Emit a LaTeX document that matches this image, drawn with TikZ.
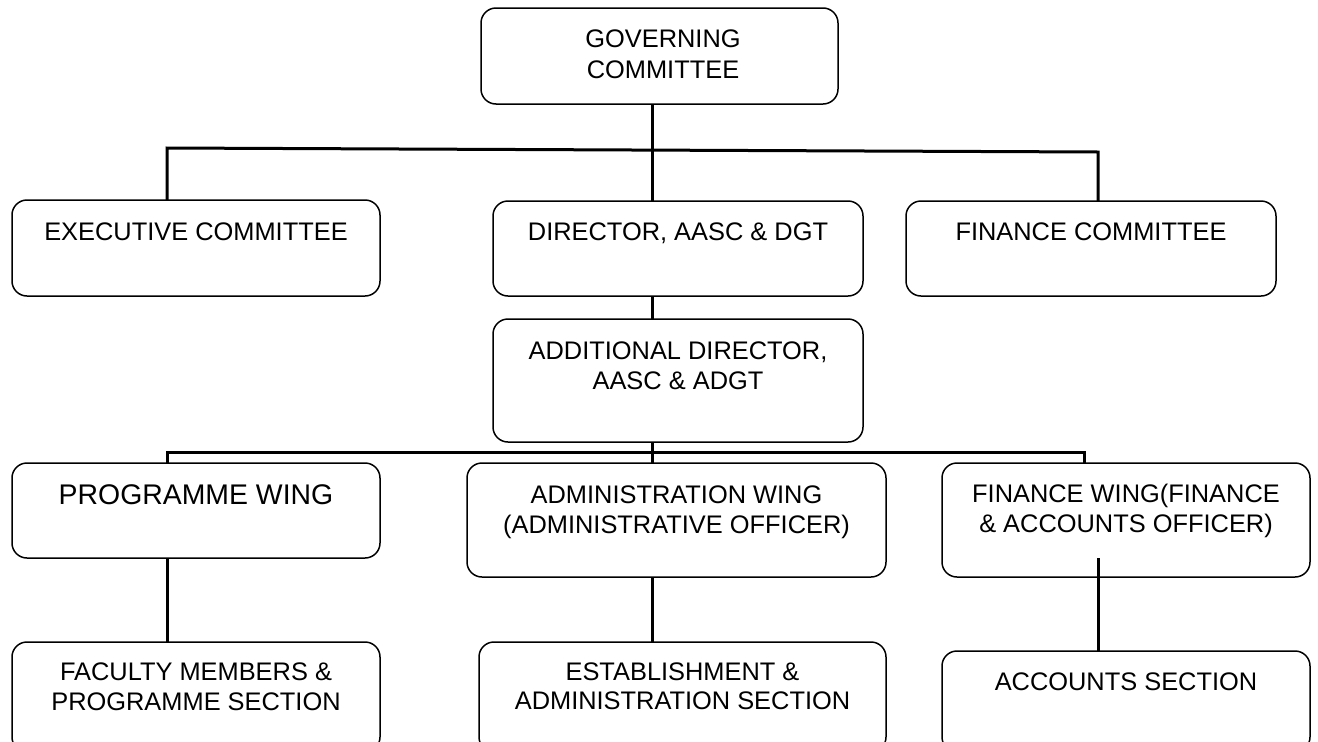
\documentclass[tikz,border=0pt]{standalone}
\usepackage{fontspec}
\setmainfont{Liberation Sans}
\begin{document}
\begin{tikzpicture}[x=1pt,y=-1pt,
  box/.style={draw, line width=1.5pt, rounded corners=15pt, inner sep=0pt, outer sep=0pt},
  conn/.style={line width=3pt},
  lbl/.style={font=\fontsize{25.4}{29.5}\selectfont, align=center, inner sep=0pt, anchor=base}]
\useasboundingbox (0,0) rectangle (1318,742);
% boxes
\node[box, minimum width=357pt, minimum height=96pt] (gov) at (659.5,56) {};
\node[box, minimum width=368pt, minimum height=96pt] (exec) at (196,248) {};
\node[box, minimum width=370pt, minimum height=95pt] (dir) at (678,248.5) {};
\node[box, minimum width=370pt, minimum height=95pt] (fcom) at (1091,248.5) {};
\node[box, minimum width=370pt, minimum height=123pt] (add) at (678,380.5) {};
\node[box, minimum width=368pt, minimum height=95pt] (pw) at (196,510.5) {};
\node[box, minimum width=419pt, minimum height=114pt] (admw) at (676.5,520) {};
\node[box, minimum width=368pt, minimum height=114pt] (fw) at (1126,520) {};
\node[box, minimum width=368pt, minimum height=110pt] (fac) at (196,697) {};
\node[box, minimum width=407pt, minimum height=110pt] (est) at (682.5,697) {};
\node[box, minimum width=368pt, minimum height=101pt] (acc) at (1126,701.5) {};
% labels (base anchor = baseline of the last line)
\node[lbl, font=\fontsize{25.4}{31}\selectfont] (tgov) at ([xshift=3.5pt,yshift=-70pt]gov.north) {GOVERNING\\COMMITTEE};
\node[lbl] (texec) at ([yshift=-40pt]exec.north) {EXECUTIVE COMMITTEE};
\node[lbl] (tdir) at ([yshift=-39pt]dir.north) {DIRECTOR, AASC \& DGT};
\node[lbl] (tfcom) at ([yshift=-39pt]fcom.north) {FINANCE COMMITTEE};
\node[lbl] (tadd) at ([yshift=-70pt]add.north) {ADDITIONAL DIRECTOR,\\AASC \& ADGT};
\node[lbl, font=\fontsize{28.4}{33}\selectfont] (tpw) at ([yshift=-41pt]pw.north) {PROGRAMME WING};
\node[lbl] (tadmw) at ([yshift=-70pt]admw.north) {ADMINISTRATION WING\\(ADMINISTRATIVE OFFICER)};
\node[lbl] (tfw) at ([yshift=-69pt]fw.north) {FINANCE WING(FINANCE\\\& ACCOUNTS OFFICER)};
\node[lbl] (tfac) at ([yshift=-68pt]fac.north) {FACULTY MEMBERS \&\\PROGRAMME SECTION};
\node[lbl] (test) at ([yshift=-67.5pt]est.north) {ESTABLISHMENT \&\\ADMINISTRATION SECTION};
\node[lbl] (tacc) at ([yshift=-39pt]acc.north) {ACCOUNTS SECTION};
% junction coordinates
\coordinate (spine) at (652,0);
\coordinate (h1L) at (167,148);
\coordinate (h1R) at (1098,152);
\coordinate (h2L) at (167,452);
\coordinate (h2R) at (1084,452);
\coordinate (fwin) at (1098,558);
% connectors
\draw[conn] (gov.south -| spine) -- (dir.north -| spine);
\draw[conn] (exec.north -| h1L) -- (h1L) -- (h1R) -- (fcom.north -| h1R);
\draw[conn] (dir.south -| spine) -- (add.north -| spine);
\draw[conn] (add.south -| spine) -- (admw.north -| spine);
\draw[conn] (pw.north -| h2L) -- (h2L) -- (h2R) -- (fw.north -| h2R);
\draw[conn] (pw.south -| h2L) -- (fac.north -| h2L);
\draw[conn] (admw.south -| spine) -- (est.north -| spine);
\draw[conn] (fwin) -- (acc.north -| fwin);
\end{tikzpicture}
\end{document}
